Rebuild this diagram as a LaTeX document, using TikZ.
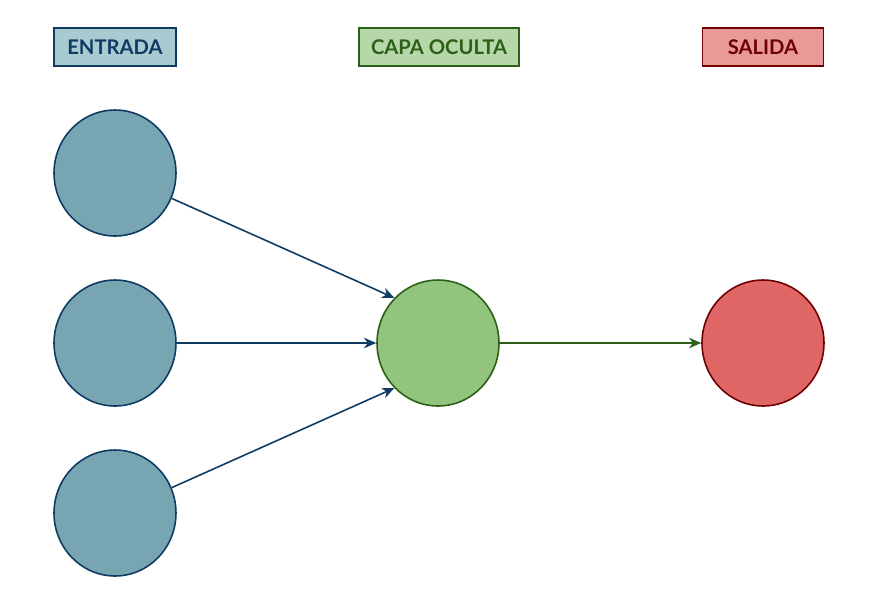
\documentclass[tikz,border=0pt]{standalone}
\usepackage{fontspec}
\setmainfont{Lato}
\usepackage{tikz}
\usetikzlibrary{arrows.meta,positioning,shapes.geometric}
\definecolor{inborder}{HTML}{0E3B63}
\definecolor{infill}{HTML}{77A6B2}
\definecolor{inlight}{HTML}{A9CAD0}
\definecolor{hidborder}{HTML}{2C5F18}
\definecolor{hidfill}{HTML}{93C47D}
\definecolor{hidlight}{HTML}{B6D7A8}
\definecolor{outborder}{HTML}{6E0000}
\definecolor{outfill}{HTML}{E06666}
\definecolor{outlight}{HTML}{EA9999}

\begin{document}
\begin{tikzpicture}[
    x=0.02cm, y=-0.02cm,
    neuron/.style={ellipse, draw, line width=0.9pt, minimum width=2.44cm, minimum height=2.52cm, inner sep=0pt},
    tag/.style={draw, line width=0.9pt, minimum height=0.76cm, inner sep=0pt, font=\fontsize{11.5}{13}\selectfont\bfseries},
    conn/.style={-{Stealth[length=7pt,width=6pt]}, line width=0.9pt}
]
    \useasboundingbox (0,0) rectangle (890,600);
    % neurons
    \node[neuron, draw=inborder, fill=infill] (in1) at (115,173) {};
    \node[neuron, draw=inborder, fill=infill] (in2) at (115,343) {};
    \node[neuron, draw=inborder, fill=infill] (in3) at (115,513) {};
    \node[neuron, draw=hidborder, fill=hidfill] (hid) at (438,343) {};
    \node[neuron, draw=outborder, fill=outfill] (out) at (763,343) {};
    % layer labels
    \node[tag, draw=inborder, fill=inlight, text=inborder, minimum width=2.44cm] (lin) at (115,47) {ENTRADA};
    \node[tag, draw=hidborder, fill=hidlight, text=hidborder, minimum width=3.2cm] (lhid) at (439,47) {CAPA OCULTA};
    \node[tag, draw=outborder, fill=outlight, text=outborder, minimum width=2.42cm] (lout) at (763,47) {SALIDA};
    % connections
    \draw[conn, inborder] (in1) -- (hid.north west);
    \draw[conn, inborder] (in2) -- (hid);
    \draw[conn, inborder] (in3) -- (hid.south west);
    \draw[conn, hidborder] (hid) -- (out);
\end{tikzpicture}
\end{document}
